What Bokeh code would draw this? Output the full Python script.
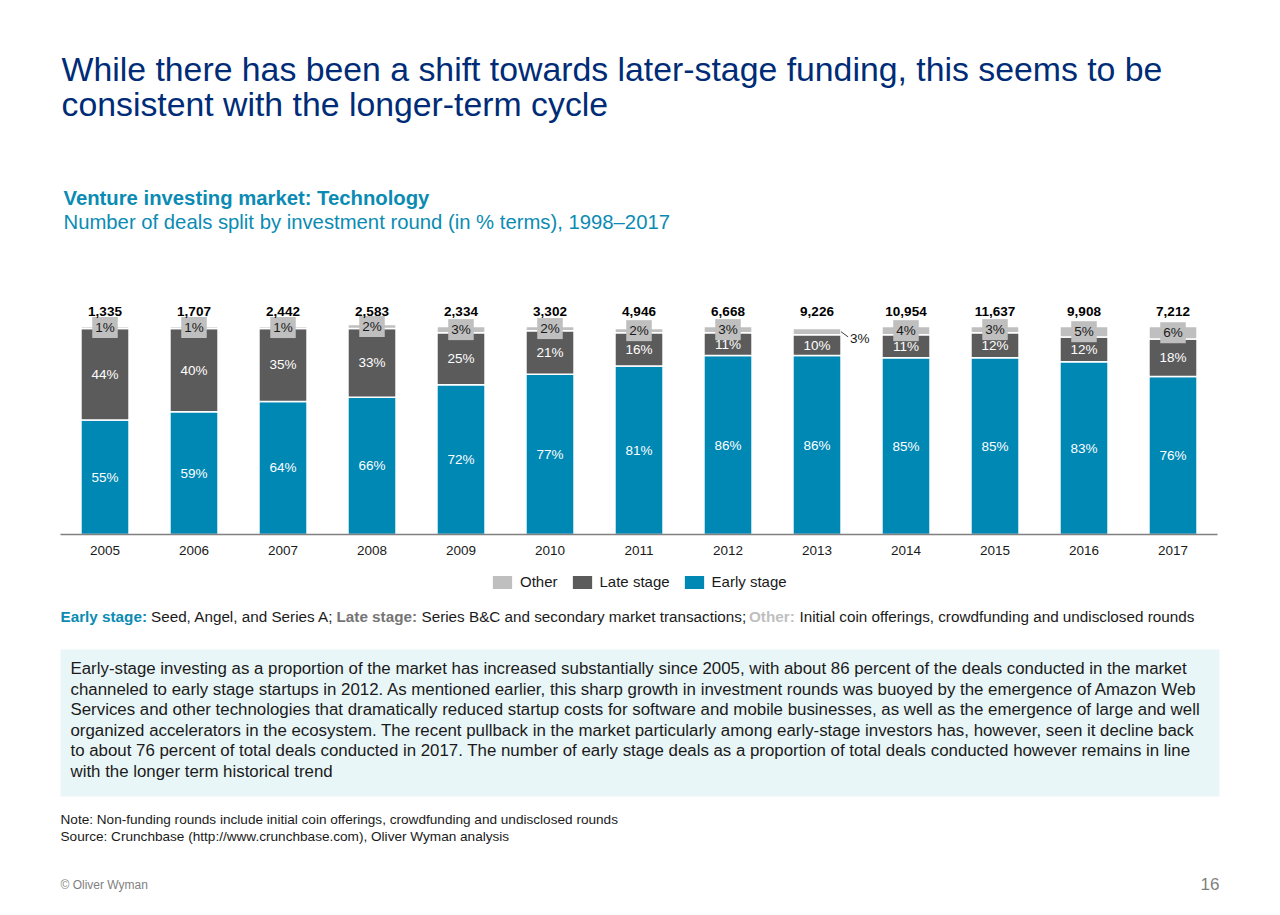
from bokeh.plotting import figure
from bokeh.models import (ColumnDataSource, Range1d, Label, Legend, LegendItem,
                          BoxAnnotation, LinearAxis, FixedTicker)
from bokeh.transform import dodge
from bokeh.core.properties import value
from bokeh.embed import file_html
from bokeh.resources import INLINE

# ---------------- data ----------------
years = [2005, 2006, 2007, 2008, 2009, 2010, 2011, 2012, 2013, 2014, 2015, 2016, 2017]
early = [55, 59, 64, 66, 72, 77, 81, 86, 86, 85, 85, 83, 76]
late = [44, 40, 35, 33, 25, 21, 16, 11, 10, 11, 12, 12, 18]
other = [1, 1, 1, 2, 3, 2, 2, 3, 3, 4, 3, 5, 6]
totals = ["1,335", "1,707", "2,442", "2,583", "2,334", "3,302", "4,946",
          "6,668", "9,226", "10,954", "11,637", "9,908", "7,212"]
callout_years = [2013]   # "Other" label drawn beside the bar

FONT = "Liberation Sans"
C_EARLY = "#0088B5"
C_LATE = "#5B5B5B"
C_OTHER = "#BFBFBF"
NAVY = "#002C77"
TEAL = "#0B8BB3"
INK = "#1A1A1A"

W, H = 1280, 915

# page coordinates (pixels, y down) are the default ranges; the chart uses its own ranges
p = figure(width=W, height=H, x_range=Range1d(0, W), y_range=Range1d(H, 0),
           output_backend="svg", toolbar_location=None,
           x_axis_location=None, y_axis_location=None, min_border=0,
           min_border_left=0, min_border_right=0, min_border_top=0, min_border_bottom=0)
p.outline_line_color = None
p.grid.visible = False

# chart layout: one year = 89 px, year 2005 centred at x=104.5 px;
# 0..100 % spans y=534 px .. y=326 px (2.08 px per %)
SLOT, X0, Y0, PXPCT = 89.0, 104.5, 534.0, 2.08
yr_lo = years[0] - X0 / SLOT
p.extra_x_ranges = {"yr": Range1d(yr_lo, yr_lo + W / SLOT)}
p.extra_y_ranges = {"pct": Range1d(-(H - Y0) / PXPCT, Y0 / PXPCT)}

xaxis = LinearAxis(x_range_name="yr", y_range_name="pct", fixed_location=0,
                   ticker=FixedTicker(ticks=years),
                   bounds=(years[0] - 0.5, years[-1] + 0.5))
xaxis.axis_line_color = "#808080"
xaxis.axis_line_width = 1.5
xaxis.major_tick_line_color = None
xaxis.major_tick_out = 0
xaxis.major_tick_in = 0
xaxis.minor_tick_line_color = None
xaxis.major_label_text_font = FONT
xaxis.major_label_text_font_size = "13.5px"
xaxis.major_label_text_color = INK
xaxis.major_label_standoff = 11
p.add_layout(xaxis, "below")

kw = dict(x_range_name="yr", y_range_name="pct")
src = ColumnDataSource(dict(year=years, early=early, late=late, other=other))
rs = p.vbar_stack(["early", "late", "other"], x="year", width=0.54, source=src,
                  color=[C_EARLY, C_LATE, C_OTHER], line_color="white", line_width=1.5,
                  **kw)

early_mid = [e / 2 for e in early]
late_mid = [e + l / 2 for e, l in zip(early, late)]
lab_src = ColumnDataSource(dict(year=years, em=early_mid, lm=late_mid,
                                et=[f"{v}%" for v in early], lt=[f"{v}%" for v in late]))
for ycol, tcol in (("em", "et"), ("lm", "lt")):
    p.text(x="year", y=ycol, text=tcol, source=lab_src, text_color="white",
           text_font=value(FONT), text_font_size="13.5px", text_align="center",
           text_baseline="middle", **kw)

oy, omid, otxt, cy, cmid, ctxt = [], [], [], [], [], []
for yv, e, l, o in zip(years, early, late, other):
    mid = e + l + o / 2
    if yv in callout_years:
        cy.append(yv); cmid.append(mid); ctxt.append(f"{o}%")
    else:
        oy.append(yv); omid.append(mid); otxt.append(f"{o}%")
osrc = ColumnDataSource(dict(year=oy, y=omid, t=otxt))
p.text(x="year", y="y", text="t", source=osrc, text_color=INK,
       text_font=value(FONT), text_font_size="13.5px", text_align="center",
       text_baseline="middle", background_fill_color=C_OTHER, padding=3, **kw)
csrc = ColumnDataSource(dict(year=cy, y=cmid, y2=[m - 2.5 for m in cmid],
                             ty=[m - 3.5 for m in cmid], t=ctxt))
p.segment(x0=dodge("year", 0.27), y0="y", x1=dodge("year", 0.35), y1="y2",
          source=csrc, line_color="#404040", line_width=1, **kw)
p.text(x=dodge("year", 0.37), y="ty", text="t", source=csrc,
       text_color=INK, text_font=value(FONT), text_font_size="13.5px",
       text_align="left", text_baseline="middle", **kw)

tsrc = ColumnDataSource(dict(year=years, y=[107.3] * len(years), t=totals))
p.text(x="year", y="y", text="t", source=tsrc, text_color="#000000",
       text_font=value(FONT), text_font_size="13.5px", text_font_style="bold",
       text_align="center", text_baseline="middle", **kw)

legend = Legend(items=[LegendItem(label="Other", renderers=[rs[2]]),
                       LegendItem(label="Late stage", renderers=[rs[1]]),
                       LegendItem(label="Early stage", renderers=[rs[0]])],
                location=(489, H - 590.5), orientation="horizontal", glyph_width=26,
                glyph_height=18, label_standoff=5, spacing=11, padding=0, margin=0,
                border_line_color=None, background_fill_alpha=0,
                label_text_font=FONT, label_text_font_size="15px",
                label_text_color=INK)
p.add_layout(legend)


# ---------------- page texts ----------------
def lab(text, x, y, size, color, bold=False, align="left", baseline="middle"):
    p.add_layout(Label(x=x, y=y, text=text, text_font=FONT, text_font_size=f"{size}px",
                       text_color=color, text_font_style="bold" if bold else "normal",
                       text_align=align, text_baseline=baseline))


lab("While there has been a shift towards later-stage funding, this seems to be",
    61, 68, 33.8, NAVY)
lab("consistent with the longer-term cycle", 61, 103, 33.8, NAVY)
lab("Venture investing market: Technology", 63, 197, 20.3, TEAL, bold=True)
lab("Number of deals split by investment round (in % terms), 1998\u20132017",
    63, 221, 20.3, TEAL)

defs = [("Early stage:", 60, TEAL, True),
        ("Seed, Angel, and Series A;", 150.5, INK, False),
        ("Late stage:", 336, "#757575", True),
        ("Series B&C and secondary market transactions;", 421, INK, False),
        ("Other:", 748.5, "#BFBFBF", True),
        ("Initial coin offerings, crowdfunding and undisclosed rounds", 799, INK, False)]
for t, x, c, b in defs:
    lab(t, x, 616, 15.25, c, bold=b)

p.add_layout(BoxAnnotation(left=60, right=1219, top=649, bottom=796,
                           fill_color="#E9F6F8", fill_alpha=1, line_color=None,
                           level="underlay"))
body = ["Early-stage investing as a proportion of the market has increased substantially since 2005, with about 86 percent of the deals conducted in the market",
        "channeled to early stage startups in 2012. As mentioned earlier, this sharp growth in investment rounds was buoyed by the emergence of Amazon Web",
        "Services and other technologies that dramatically reduced startup costs for software and mobile businesses, as well as the emergence of large and well",
        "organized accelerators in the ecosystem. The recent pullback in the market particularly among early-stage investors has, however, seen it decline back",
        "to about 76 percent of total deals conducted in 2017. The number of early stage deals as a proportion of total deals conducted however remains in line",
        "with the longer term historical trend"]
for i, t in enumerate(body):
    lab(t, 70, 668 + i * 20.6, 16.85, INK)

lab("Note: Non-funding rounds include initial coin offerings, crowdfunding and undisclosed rounds",
    60, 819, 13.6, INK)
lab("Source: Crunchbase (http://www.crunchbase.com), Oliver Wyman analysis",
    60, 836, 13.6, INK)
lab("\u00a9 Oliver Wyman", 60, 884, 12, "#7F7F7F")
lab("16", 1219, 883, 17, "#7F7F7F", align="right")

open("out.html", "w").write(file_html(p, INLINE))
